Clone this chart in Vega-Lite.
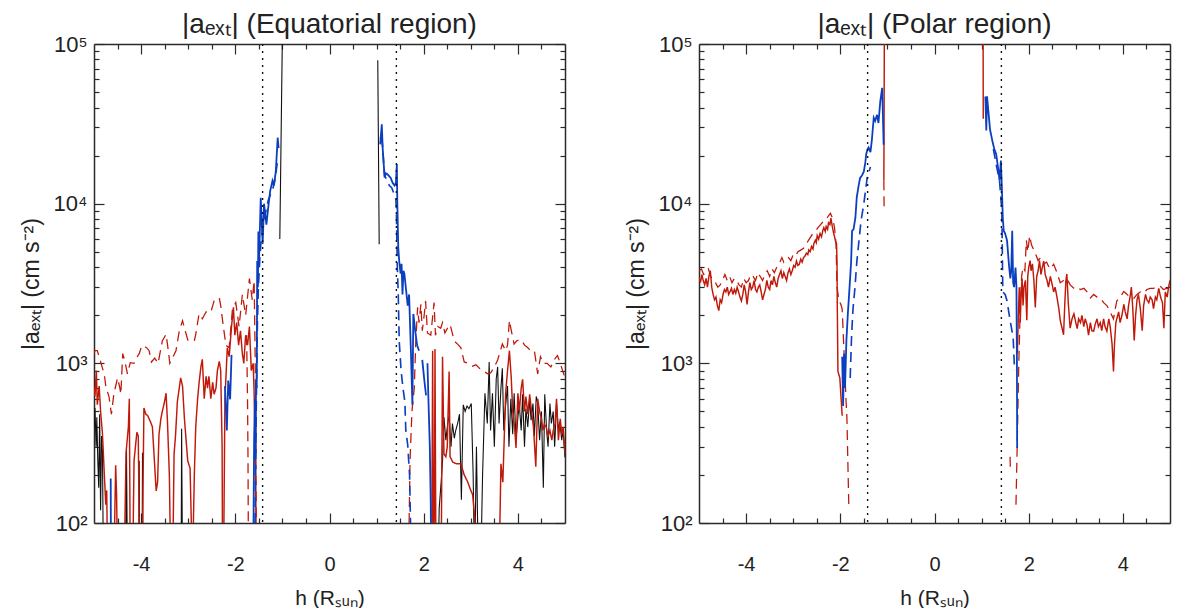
{
"$schema": "https://vega.github.io/schema/vega-lite/v6.json",
"padding": {"left": 20, "top": 11, "right": 2, "bottom": 0},
"spacing": 59,
"config": {
 "font": "Liberation Sans",
 "view": {"stroke": null},
 "axis": {"grid": false, "domainColor": "#2a2a2a", "domainWidth": 1.5, "tickColor": "#2a2a2a", "tickWidth": 1.2, "labelColor": "#222", "titleColor": "#222", "labelFontSize": 20, "titleFontSize": 23, "titleFontWeight": "normal", "labelOverlap": false, "labelFlush": false},
 "title": {"fontSize": 28, "fontWeight": "normal", "color": "#222", "frame": "group", "offset": -6}
},
"datasets": {
 "vlines": [{"x": -1.42}, {"x": 1.42}],
 "yb": [{"y": 100}, {"y": 100000}],
 "lines": [
{"p":"E","s":"k","g":"k1","x":-5.0,"y":400},{"p":"E","s":"k","g":"k1","x":-4.98,"y":525},{"p":"E","s":"k","g":"k1","x":-4.955,"y":300},{"p":"E","s":"k","g":"k1","x":-4.94,"y":460},{"p":"E","s":"k","g":"k1","x":-4.92,"y":250},{"p":"E","s":"k","g":"k1","x":-4.90,"y":166},{"p":"E","s":"k","g":"k1","x":-4.88,"y":480},{"p":"E","s":"k","g":"k1","x":-4.86,"y":120},{"p":"E","s":"k","g":"k1","x":-4.84,"y":350},{"p":"E","s":"k","g":"k1","x":-4.82,"y":280},{"p":"E","s":"k","g":"k1","x":-4.80,"y":50},
{"p":"E","s":"k","g":"k2","x":-4.33,"y":50},{"p":"E","s":"k","g":"k2","x":-4.31,"y":290},{"p":"E","s":"k","g":"k2","x":-4.29,"y":50},
{"p":"E","s":"k","g":"k3","x":-4.05,"y":50},{"p":"E","s":"k","g":"k3","x":-4.04,"y":245},{"p":"E","s":"k","g":"k3","x":-4.03,"y":50},
{"p":"E","s":"k","g":"k4","x":-3.98,"y":50},{"p":"E","s":"k","g":"k4","x":-3.97,"y":275},{"p":"E","s":"k","g":"k4","x":-3.96,"y":50},
{"p":"E","s":"k","g":"k5","x":-3.15,"y":50},{"p":"E","s":"k","g":"k5","x":-3.14,"y":390},{"p":"E","s":"k","g":"k5","x":-3.12,"y":50},
{"p":"E","s":"k","g":"k6","x":-1.055,"y":6000},{"p":"E","s":"k","g":"k6","x":-0.99,"y":200000},
{"p":"E","s":"k","g":"k7","x":1.025,"y":79000},{"p":"E","s":"k","g":"k7","x":1.055,"y":5570},
{"p":"E","s":"k","g":"k8","x":2.30,"y":50},{"p":"E","s":"k","g":"k8","x":2.33,"y":125},{"p":"E","s":"k","g":"k8","x":2.37,"y":180},{"p":"E","s":"k","g":"k8","x":2.40,"y":245},{"p":"E","s":"k","g":"k8","x":2.43,"y":460},{"p":"E","s":"k","g":"k8","x":2.47,"y":330},{"p":"E","s":"k","g":"k8","x":2.51,"y":420},{"p":"E","s":"k","g":"k8","x":2.54,"y":470},{"p":"E","s":"k","g":"k8","x":2.58,"y":300},{"p":"E","s":"k","g":"k8","x":2.61,"y":420},{"p":"E","s":"k","g":"k8","x":2.65,"y":340},{"p":"E","s":"k","g":"k8","x":2.68,"y":380},{"p":"E","s":"k","g":"k8","x":2.72,"y":420},{"p":"E","s":"k","g":"k8","x":2.76,"y":480},{"p":"E","s":"k","g":"k8","x":2.80,"y":140},{"p":"E","s":"k","g":"k8","x":2.84,"y":550},{"p":"E","s":"k","g":"k8","x":2.88,"y":500},{"p":"E","s":"k","g":"k8","x":2.92,"y":540},{"p":"E","s":"k","g":"k8","x":2.96,"y":520},{"p":"E","s":"k","g":"k8","x":3.01,"y":560},{"p":"E","s":"k","g":"k8","x":3.05,"y":200},{"p":"E","s":"k","g":"k8","x":3.08,"y":50},{"p":"E","s":"k","g":"k8","x":3.12,"y":300},{"p":"E","s":"k","g":"k8","x":3.16,"y":50},{"p":"E","s":"k","g":"k8","x":3.21,"y":50},{"p":"E","s":"k","g":"k8","x":3.25,"y":200},{"p":"E","s":"k","g":"k8","x":3.30,"y":650},{"p":"E","s":"k","g":"k8","x":3.35,"y":420},{"p":"E","s":"k","g":"k8","x":3.39,"y":1020},{"p":"E","s":"k","g":"k8","x":3.42,"y":380},{"p":"E","s":"k","g":"k8","x":3.46,"y":650},{"p":"E","s":"k","g":"k8","x":3.50,"y":300},{"p":"E","s":"k","g":"k8","x":3.54,"y":800},{"p":"E","s":"k","g":"k8","x":3.57,"y":950},{"p":"E","s":"k","g":"k8","x":3.60,"y":420},{"p":"E","s":"k","g":"k8","x":3.64,"y":700},{"p":"E","s":"k","g":"k8","x":3.67,"y":930},{"p":"E","s":"k","g":"k8","x":3.70,"y":380},{"p":"E","s":"k","g":"k8","x":3.74,"y":550},{"p":"E","s":"k","g":"k8","x":3.78,"y":720},{"p":"E","s":"k","g":"k8","x":3.81,"y":300},{"p":"E","s":"k","g":"k8","x":3.85,"y":600},{"p":"E","s":"k","g":"k8","x":3.89,"y":360},{"p":"E","s":"k","g":"k8","x":3.92,"y":650},{"p":"E","s":"k","g":"k8","x":3.96,"y":330},{"p":"E","s":"k","g":"k8","x":4.00,"y":460},{"p":"E","s":"k","g":"k8","x":4.03,"y":550},{"p":"E","s":"k","g":"k8","x":4.07,"y":380},{"p":"E","s":"k","g":"k8","x":4.10,"y":640},{"p":"E","s":"k","g":"k8","x":4.14,"y":300},{"p":"E","s":"k","g":"k8","x":4.17,"y":520},{"p":"E","s":"k","g":"k8","x":4.21,"y":400},{"p":"E","s":"k","g":"k8","x":4.25,"y":600},{"p":"E","s":"k","g":"k8","x":4.28,"y":440},{"p":"E","s":"k","g":"k8","x":4.32,"y":560},{"p":"E","s":"k","g":"k8","x":4.35,"y":350},{"p":"E","s":"k","g":"k8","x":4.39,"y":620},{"p":"E","s":"k","g":"k8","x":4.42,"y":570},{"p":"E","s":"k","g":"k8","x":4.46,"y":330},{"p":"E","s":"k","g":"k8","x":4.50,"y":500},{"p":"E","s":"k","g":"k8","x":4.54,"y":166},{"p":"E","s":"k","g":"k8","x":4.57,"y":640},{"p":"E","s":"k","g":"k8","x":4.61,"y":380},{"p":"E","s":"k","g":"k8","x":4.64,"y":300},{"p":"E","s":"k","g":"k8","x":4.68,"y":560},{"p":"E","s":"k","g":"k8","x":4.71,"y":420},{"p":"E","s":"k","g":"k8","x":4.75,"y":500},{"p":"E","s":"k","g":"k8","x":4.78,"y":300},{"p":"E","s":"k","g":"k8","x":4.82,"y":560},{"p":"E","s":"k","g":"k8","x":4.86,"y":380},{"p":"E","s":"k","g":"k8","x":4.89,"y":430},{"p":"E","s":"k","g":"k8","x":4.93,"y":330},{"p":"E","s":"k","g":"k8","x":4.96,"y":380},{"p":"E","s":"k","g":"k8","x":5.0,"y":257},

{"p":"E","s":"rd","g":"r1","x":-5.0,"y":1150},{"p":"E","s":"rd","g":"r1","x":-4.98,"y":1200},{"p":"E","s":"rd","g":"r1","x":-4.93,"y":1200},{"p":"E","s":"rd","g":"r1","x":-4.85,"y":1000},{"p":"E","s":"rd","g":"r1","x":-4.78,"y":850},{"p":"E","s":"rd","g":"r1","x":-4.75,"y":720},{"p":"E","s":"rd","g":"r1","x":-4.68,"y":615},{"p":"E","s":"rd","g":"r1","x":-4.63,"y":480},{"p":"E","s":"rd","g":"r1","x":-4.58,"y":640},{"p":"E","s":"rd","g":"r1","x":-4.50,"y":810},{"p":"E","s":"rd","g":"r1","x":-4.45,"y":700},{"p":"E","s":"rd","g":"r1","x":-4.43,"y":640},{"p":"E","s":"rd","g":"r1","x":-4.39,"y":1150},{"p":"E","s":"rd","g":"r1","x":-4.35,"y":1050},{"p":"E","s":"rd","g":"r1","x":-4.29,"y":860},{"p":"E","s":"rd","g":"r1","x":-4.23,"y":1010},{"p":"E","s":"rd","g":"r1","x":-4.15,"y":1000},{"p":"E","s":"rd","g":"r1","x":-4.09,"y":1090},{"p":"E","s":"rd","g":"r1","x":-4.04,"y":1150},{"p":"E","s":"rd","g":"r1","x":-4.00,"y":1250},{"p":"E","s":"rd","g":"r1","x":-3.96,"y":1300},{"p":"E","s":"rd","g":"r1","x":-3.88,"y":1250},{"p":"E","s":"rd","g":"r1","x":-3.83,"y":1200},{"p":"E","s":"rd","g":"r1","x":-3.78,"y":1020},{"p":"E","s":"rd","g":"r1","x":-3.71,"y":1080},{"p":"E","s":"rd","g":"r1","x":-3.64,"y":1000},{"p":"E","s":"rd","g":"r1","x":-3.55,"y":1380},{"p":"E","s":"rd","g":"r1","x":-3.47,"y":1520},{"p":"E","s":"rd","g":"r1","x":-3.43,"y":1250},{"p":"E","s":"rd","g":"r1","x":-3.39,"y":1000},{"p":"E","s":"rd","g":"r1","x":-3.26,"y":1200},{"p":"E","s":"rd","g":"r1","x":-3.19,"y":1590},{"p":"E","s":"rd","g":"r1","x":-3.12,"y":1850},{"p":"E","s":"rd","g":"r1","x":-3.01,"y":1400},{"p":"E","s":"rd","g":"r1","x":-2.87,"y":1380},{"p":"E","s":"rd","g":"r1","x":-2.84,"y":1520},{"p":"E","s":"rd","g":"r1","x":-2.77,"y":2040},{"p":"E","s":"rd","g":"r1","x":-2.70,"y":1900},{"p":"E","s":"rd","g":"r1","x":-2.66,"y":2000},{"p":"E","s":"rd","g":"r1","x":-2.62,"y":2100},{"p":"E","s":"rd","g":"r1","x":-2.52,"y":2090},{"p":"E","s":"rd","g":"r1","x":-2.45,"y":2460},{"p":"E","s":"rd","g":"r1","x":-2.34,"y":2570},{"p":"E","s":"rd","g":"r1","x":-2.31,"y":2300},{"p":"E","s":"rd","g":"r1","x":-2.27,"y":1850},{"p":"E","s":"rd","g":"r1","x":-2.24,"y":1590},{"p":"E","s":"rd","g":"r1","x":-2.20,"y":1300},{"p":"E","s":"rd","g":"r1","x":-2.13,"y":1250},{"p":"E","s":"rd","g":"r1","x":-2.06,"y":2200},{"p":"E","s":"rd","g":"r1","x":-1.99,"y":2400},{"p":"E","s":"rd","g":"r1","x":-1.92,"y":1700},{"p":"E","s":"rd","g":"r1","x":-1.85,"y":2700},{"p":"E","s":"rd","g":"r1","x":-1.78,"y":2000},{"p":"E","s":"rd","g":"r1","x":-1.70,"y":3400},{"p":"E","s":"rd","g":"r1","x":-1.64,"y":2500},{"p":"E","s":"rd","g":"r1","x":-1.60,"y":3300},{"p":"E","s":"rd","g":"r1","x":-1.58,"y":1200},{"p":"E","s":"rd","g":"r1","x":-1.565,"y":400},{"p":"E","s":"rd","g":"r1","x":-1.56,"y":190},{"p":"E","s":"rd","g":"r1","x":-1.55,"y":50},
{"p":"E","s":"rd","g":"r1b","x":-1.76,"y":1500},{"p":"E","s":"rd","g":"r1b","x":-1.74,"y":575},{"p":"E","s":"rd","g":"r1b","x":-1.73,"y":245},{"p":"E","s":"rd","g":"r1b","x":-1.72,"y":50},
{"p":"E","s":"rd","g":"r2","x":1.68,"y":50},{"p":"E","s":"rd","g":"r2","x":1.69,"y":100},{"p":"E","s":"rd","g":"r2","x":1.71,"y":245},{"p":"E","s":"rd","g":"r2","x":1.75,"y":500},{"p":"E","s":"rd","g":"r2","x":1.80,"y":700},{"p":"E","s":"rd","g":"r2","x":1.83,"y":1320},{"p":"E","s":"rd","g":"r2","x":1.87,"y":2240},{"p":"E","s":"rd","g":"r2","x":1.90,"y":1800},{"p":"E","s":"rd","g":"r2","x":1.94,"y":2340},{"p":"E","s":"rd","g":"r2","x":1.97,"y":1600},{"p":"E","s":"rd","g":"r2","x":2.01,"y":2000},{"p":"E","s":"rd","g":"r2","x":2.04,"y":2460},{"p":"E","s":"rd","g":"r2","x":2.08,"y":1550},{"p":"E","s":"rd","g":"r2","x":2.15,"y":1500},{"p":"E","s":"rd","g":"r2","x":2.22,"y":2400},{"p":"E","s":"rd","g":"r2","x":2.25,"y":1500},{"p":"E","s":"rd","g":"r2","x":2.30,"y":1700},{"p":"E","s":"rd","g":"r2","x":2.36,"y":1660},{"p":"E","s":"rd","g":"r2","x":2.40,"y":1800},{"p":"E","s":"rd","g":"r2","x":2.45,"y":1550},{"p":"E","s":"rd","g":"r2","x":2.50,"y":1650},{"p":"E","s":"rd","g":"r2","x":2.56,"y":1750},{"p":"E","s":"rd","g":"r2","x":2.65,"y":1380},{"p":"E","s":"rd","g":"r2","x":2.72,"y":1320},{"p":"E","s":"rd","g":"r2","x":2.79,"y":1250},{"p":"E","s":"rd","g":"r2","x":2.86,"y":1020},{"p":"E","s":"rd","g":"r2","x":2.95,"y":1000},{"p":"E","s":"rd","g":"r2","x":3.04,"y":960},{"p":"E","s":"rd","g":"r2","x":3.11,"y":980},{"p":"E","s":"rd","g":"r2","x":3.20,"y":920},{"p":"E","s":"rd","g":"r2","x":3.28,"y":890},{"p":"E","s":"rd","g":"r2","x":3.36,"y":860},{"p":"E","s":"rd","g":"r2","x":3.42,"y":870},{"p":"E","s":"rd","g":"r2","x":3.50,"y":950},{"p":"E","s":"rd","g":"r2","x":3.57,"y":1050},{"p":"E","s":"rd","g":"r2","x":3.62,"y":1180},{"p":"E","s":"rd","g":"r2","x":3.67,"y":1320},{"p":"E","s":"rd","g":"r2","x":3.74,"y":1200},{"p":"E","s":"rd","g":"r2","x":3.78,"y":1300},{"p":"E","s":"rd","g":"r2","x":3.82,"y":1860},{"p":"E","s":"rd","g":"r2","x":3.86,"y":1600},{"p":"E","s":"rd","g":"r2","x":3.92,"y":1320},{"p":"E","s":"rd","g":"r2","x":3.97,"y":1380},{"p":"E","s":"rd","g":"r2","x":4.03,"y":1410},{"p":"E","s":"rd","g":"r2","x":4.09,"y":1380},{"p":"E","s":"rd","g":"r2","x":4.14,"y":1300},{"p":"E","s":"rd","g":"r2","x":4.20,"y":1260},{"p":"E","s":"rd","g":"r2","x":4.27,"y":1200},{"p":"E","s":"rd","g":"r2","x":4.35,"y":1200},{"p":"E","s":"rd","g":"r2","x":4.42,"y":860},{"p":"E","s":"rd","g":"r2","x":4.48,"y":1100},{"p":"E","s":"rd","g":"r2","x":4.54,"y":1000},{"p":"E","s":"rd","g":"r2","x":4.62,"y":1000},{"p":"E","s":"rd","g":"r2","x":4.70,"y":950},{"p":"E","s":"rd","g":"r2","x":4.77,"y":1050},{"p":"E","s":"rd","g":"r2","x":4.84,"y":1120},{"p":"E","s":"rd","g":"r2","x":4.90,"y":1000},{"p":"E","s":"rd","g":"r2","x":4.95,"y":900},{"p":"E","s":"rd","g":"r2","x":5.0,"y":810},

{"p":"E","s":"rs","g":"s1","x":-5.0,"y":700},{"p":"E","s":"rs","g":"s1","x":-4.98,"y":620},{"p":"E","s":"rs","g":"s1","x":-4.95,"y":900},{"p":"E","s":"rs","g":"s1","x":-4.93,"y":550},{"p":"E","s":"rs","g":"s1","x":-4.89,"y":720},{"p":"E","s":"rs","g":"s1","x":-4.86,"y":500},{"p":"E","s":"rs","g":"s1","x":-4.82,"y":360},{"p":"E","s":"rs","g":"s1","x":-4.78,"y":200},{"p":"E","s":"rs","g":"s1","x":-4.75,"y":130},{"p":"E","s":"rs","g":"s1","x":-4.73,"y":160},{"p":"E","s":"rs","g":"s1","x":-4.71,"y":50},{"p":"E","s":"rs","g":"s1","x":-4.58,"y":50},{"p":"E","s":"rs","g":"s1","x":-4.54,"y":230},{"p":"E","s":"rs","g":"s1","x":-4.52,"y":150},{"p":"E","s":"rs","g":"s1","x":-4.50,"y":50},{"p":"E","s":"rs","g":"s1","x":-4.36,"y":50},{"p":"E","s":"rs","g":"s1","x":-4.32,"y":275},{"p":"E","s":"rs","g":"s1","x":-4.27,"y":400},{"p":"E","s":"rs","g":"s1","x":-4.25,"y":600},{"p":"E","s":"rs","g":"s1","x":-4.23,"y":50},{"p":"E","s":"rs","g":"s1","x":-4.18,"y":50},{"p":"E","s":"rs","g":"s1","x":-4.15,"y":245},{"p":"E","s":"rs","g":"s1","x":-4.12,"y":300},{"p":"E","s":"rs","g":"s1","x":-4.09,"y":370},{"p":"E","s":"rs","g":"s1","x":-4.06,"y":350},{"p":"E","s":"rs","g":"s1","x":-4.03,"y":50},{"p":"E","s":"rs","g":"s1","x":-3.98,"y":50},{"p":"E","s":"rs","g":"s1","x":-3.94,"y":525},{"p":"E","s":"rs","g":"s1","x":-3.90,"y":480},{"p":"E","s":"rs","g":"s1","x":-3.86,"y":470},{"p":"E","s":"rs","g":"s1","x":-3.80,"y":430},{"p":"E","s":"rs","g":"s1","x":-3.76,"y":400},{"p":"E","s":"rs","g":"s1","x":-3.70,"y":200},{"p":"E","s":"rs","g":"s1","x":-3.68,"y":159},{"p":"E","s":"rs","g":"s1","x":-3.65,"y":180},{"p":"E","s":"rs","g":"s1","x":-3.62,"y":360},{"p":"E","s":"rs","g":"s1","x":-3.58,"y":450},{"p":"E","s":"rs","g":"s1","x":-3.55,"y":500},{"p":"E","s":"rs","g":"s1","x":-3.51,"y":560},{"p":"E","s":"rs","g":"s1","x":-3.47,"y":650},{"p":"E","s":"rs","g":"s1","x":-3.44,"y":430},{"p":"E","s":"rs","g":"s1","x":-3.40,"y":200},{"p":"E","s":"rs","g":"s1","x":-3.37,"y":50},{"p":"E","s":"rs","g":"s1","x":-3.33,"y":50},{"p":"E","s":"rs","g":"s1","x":-3.30,"y":270},{"p":"E","s":"rs","g":"s1","x":-3.27,"y":350},{"p":"E","s":"rs","g":"s1","x":-3.23,"y":575},{"p":"E","s":"rs","g":"s1","x":-3.19,"y":700},{"p":"E","s":"rs","g":"s1","x":-3.16,"y":810},{"p":"E","s":"rs","g":"s1","x":-3.12,"y":720},{"p":"E","s":"rs","g":"s1","x":-3.08,"y":450},{"p":"E","s":"rs","g":"s1","x":-3.01,"y":245},{"p":"E","s":"rs","g":"s1","x":-2.96,"y":220},{"p":"E","s":"rs","g":"s1","x":-2.91,"y":50},{"p":"E","s":"rs","g":"s1","x":-2.87,"y":200},{"p":"E","s":"rs","g":"s1","x":-2.84,"y":400},{"p":"E","s":"rs","g":"s1","x":-2.80,"y":600},{"p":"E","s":"rs","g":"s1","x":-2.77,"y":750},{"p":"E","s":"rs","g":"s1","x":-2.73,"y":950},{"p":"E","s":"rs","g":"s1","x":-2.70,"y":1060},{"p":"E","s":"rs","g":"s1","x":-2.66,"y":600},{"p":"E","s":"rs","g":"s1","x":-2.62,"y":830},{"p":"E","s":"rs","g":"s1","x":-2.59,"y":700},{"p":"E","s":"rs","g":"s1","x":-2.56,"y":830},{"p":"E","s":"rs","g":"s1","x":-2.52,"y":600},{"p":"E","s":"rs","g":"s1","x":-2.48,"y":760},{"p":"E","s":"rs","g":"s1","x":-2.45,"y":640},{"p":"E","s":"rs","g":"s1","x":-2.41,"y":700},{"p":"E","s":"rs","g":"s1","x":-2.38,"y":900},{"p":"E","s":"rs","g":"s1","x":-2.34,"y":1030},{"p":"E","s":"rs","g":"s1","x":-2.31,"y":900},{"p":"E","s":"rs","g":"s1","x":-2.28,"y":300},{"p":"E","s":"rs","g":"s1","x":-2.27,"y":50},
{"p":"E","s":"rs","g":"s2","x":-2.25,"y":50},{"p":"E","s":"rs","g":"s2","x":-2.22,"y":600},{"p":"E","s":"rs","g":"s2","x":-2.17,"y":1250},{"p":"E","s":"rs","g":"s2","x":-2.13,"y":1100},{"p":"E","s":"rs","g":"s2","x":-2.08,"y":1700},{"p":"E","s":"rs","g":"s2","x":-2.04,"y":2240},{"p":"E","s":"rs","g":"s2","x":-2.01,"y":1500},{"p":"E","s":"rs","g":"s2","x":-1.97,"y":1800},{"p":"E","s":"rs","g":"s2","x":-1.93,"y":1300},{"p":"E","s":"rs","g":"s2","x":-1.89,"y":1600},{"p":"E","s":"rs","g":"s2","x":-1.85,"y":1150},{"p":"E","s":"rs","g":"s2","x":-1.82,"y":1000},{"p":"E","s":"rs","g":"s2","x":-1.78,"y":1500},{"p":"E","s":"rs","g":"s2","x":-1.74,"y":1300},{"p":"E","s":"rs","g":"s2","x":-1.70,"y":1700},{"p":"E","s":"rs","g":"s2","x":-1.66,"y":900},{"p":"E","s":"rs","g":"s2","x":-1.62,"y":1000},{"p":"E","s":"rs","g":"s2","x":-1.60,"y":650},{"p":"E","s":"rs","g":"s2","x":-1.57,"y":200},{"p":"E","s":"rs","g":"s2","x":-1.55,"y":50},
{"p":"E","s":"rs","g":"s3","x":2.17,"y":50},{"p":"E","s":"rs","g":"s3","x":2.19,"y":1200},{"p":"E","s":"rs","g":"s3","x":2.21,"y":50},{"p":"E","s":"rs","g":"s3","x":2.23,"y":150},{"p":"E","s":"rs","g":"s3","x":2.24,"y":1230},{"p":"E","s":"rs","g":"s3","x":2.26,"y":50},{"p":"E","s":"rs","g":"s3","x":2.37,"y":50},{"p":"E","s":"rs","g":"s3","x":2.40,"y":1100},{"p":"E","s":"rs","g":"s3","x":2.43,"y":270},{"p":"E","s":"rs","g":"s3","x":2.47,"y":260},{"p":"E","s":"rs","g":"s3","x":2.50,"y":300},{"p":"E","s":"rs","g":"s3","x":2.54,"y":890},{"p":"E","s":"rs","g":"s3","x":2.56,"y":260},{"p":"E","s":"rs","g":"s3","x":2.62,"y":240},{"p":"E","s":"rs","g":"s3","x":2.70,"y":235},{"p":"E","s":"rs","g":"s3","x":2.79,"y":235},{"p":"E","s":"rs","g":"s3","x":2.86,"y":200},{"p":"E","s":"rs","g":"s3","x":2.93,"y":182},{"p":"E","s":"rs","g":"s3","x":3.00,"y":160},{"p":"E","s":"rs","g":"s3","x":3.04,"y":150},{"p":"E","s":"rs","g":"s3","x":3.08,"y":110},{"p":"E","s":"rs","g":"s3","x":3.12,"y":50},
{"p":"E","s":"rs","g":"s4","x":3.60,"y":50},{"p":"E","s":"rs","g":"s4","x":3.64,"y":235},{"p":"E","s":"rs","g":"s4","x":3.68,"y":180},{"p":"E","s":"rs","g":"s4","x":3.74,"y":650},{"p":"E","s":"rs","g":"s4","x":3.78,"y":900},{"p":"E","s":"rs","g":"s4","x":3.82,"y":1200},{"p":"E","s":"rs","g":"s4","x":3.86,"y":800},{"p":"E","s":"rs","g":"s4","x":3.89,"y":500},{"p":"E","s":"rs","g":"s4","x":3.93,"y":400},{"p":"E","s":"rs","g":"s4","x":3.96,"y":295},{"p":"E","s":"rs","g":"s4","x":4.00,"y":650},{"p":"E","s":"rs","g":"s4","x":4.03,"y":500},{"p":"E","s":"rs","g":"s4","x":4.07,"y":700},{"p":"E","s":"rs","g":"s4","x":4.10,"y":795},{"p":"E","s":"rs","g":"s4","x":4.14,"y":500},{"p":"E","s":"rs","g":"s4","x":4.17,"y":620},{"p":"E","s":"rs","g":"s4","x":4.21,"y":480},{"p":"E","s":"rs","g":"s4","x":4.25,"y":640},{"p":"E","s":"rs","g":"s4","x":4.29,"y":500},{"p":"E","s":"rs","g":"s4","x":4.33,"y":400},{"p":"E","s":"rs","g":"s4","x":4.38,"y":225},{"p":"E","s":"rs","g":"s4","x":4.42,"y":600},{"p":"E","s":"rs","g":"s4","x":4.46,"y":500},{"p":"E","s":"rs","g":"s4","x":4.50,"y":450},{"p":"E","s":"rs","g":"s4","x":4.53,"y":380},{"p":"E","s":"rs","g":"s4","x":4.56,"y":415},{"p":"E","s":"rs","g":"s4","x":4.60,"y":400},{"p":"E","s":"rs","g":"s4","x":4.64,"y":350},{"p":"E","s":"rs","g":"s4","x":4.68,"y":380},{"p":"E","s":"rs","g":"s4","x":4.72,"y":330},{"p":"E","s":"rs","g":"s4","x":4.75,"y":380},{"p":"E","s":"rs","g":"s4","x":4.79,"y":420},{"p":"E","s":"rs","g":"s4","x":4.82,"y":600},{"p":"E","s":"rs","g":"s4","x":4.86,"y":330},{"p":"E","s":"rs","g":"s4","x":4.90,"y":450},{"p":"E","s":"rs","g":"s4","x":4.93,"y":360},{"p":"E","s":"rs","g":"s4","x":4.96,"y":400},{"p":"E","s":"rs","g":"s4","x":5.0,"y":270},

{"p":"E","s":"bd","g":"d1","x":-1.59,"y":50},{"p":"E","s":"bd","g":"d1","x":-1.57,"y":200},{"p":"E","s":"bd","g":"d1","x":-1.55,"y":700},{"p":"E","s":"bd","g":"d1","x":-1.53,"y":1800},{"p":"E","s":"bd","g":"d1","x":-1.51,"y":3000},{"p":"E","s":"bd","g":"d1","x":-1.48,"y":4500},{"p":"E","s":"bd","g":"d1","x":-1.45,"y":6000},{"p":"E","s":"bd","g":"d1","x":-1.40,"y":7500},{"p":"E","s":"bd","g":"d1","x":-1.35,"y":9000},{"p":"E","s":"bd","g":"d1","x":-1.30,"y":10500},{"p":"E","s":"bd","g":"d1","x":-1.25,"y":11500},{"p":"E","s":"bd","g":"d1","x":-1.20,"y":12500},{"p":"E","s":"bd","g":"d1","x":-1.15,"y":14500},{"p":"E","s":"bd","g":"d1","x":-1.11,"y":18000},
{"p":"E","s":"bd","g":"d2","x":1.08,"y":26000},{"p":"E","s":"bd","g":"d2","x":1.12,"y":24000},{"p":"E","s":"bd","g":"d2","x":1.17,"y":15000},{"p":"E","s":"bd","g":"d2","x":1.22,"y":14000},{"p":"E","s":"bd","g":"d2","x":1.27,"y":13000},{"p":"E","s":"bd","g":"d2","x":1.32,"y":12600},{"p":"E","s":"bd","g":"d2","x":1.37,"y":11500},{"p":"E","s":"bd","g":"d2","x":1.41,"y":10600},{"p":"E","s":"bd","g":"d2","x":1.42,"y":9000},{"p":"E","s":"bd","g":"d2","x":1.44,"y":4000},{"p":"E","s":"bd","g":"d2","x":1.46,"y":2700},{"p":"E","s":"bd","g":"d2","x":1.48,"y":1380},{"p":"E","s":"bd","g":"d2","x":1.52,"y":900},{"p":"E","s":"bd","g":"d2","x":1.56,"y":700},{"p":"E","s":"bd","g":"d2","x":1.60,"y":575},{"p":"E","s":"bd","g":"d2","x":1.62,"y":380},{"p":"E","s":"bd","g":"d2","x":1.66,"y":310},{"p":"E","s":"bd","g":"d2","x":1.70,"y":200},{"p":"E","s":"bd","g":"d2","x":1.74,"y":50},

{"p":"E","s":"bs","g":"b1","x":-4.645,"y":190},{"p":"E","s":"bs","g":"b1","x":-4.64,"y":50},
{"p":"E","s":"bs","g":"b2","x":-2.22,"y":720},{"p":"E","s":"bs","g":"b2","x":-2.18,"y":380},{"p":"E","s":"bs","g":"b2","x":-2.15,"y":780},{"p":"E","s":"bs","g":"b2","x":-2.11,"y":595},{"p":"E","s":"bs","g":"b2","x":-2.08,"y":1130},
{"p":"E","s":"bs","g":"b3","x":-1.62,"y":50},{"p":"E","s":"bs","g":"b3","x":-1.60,"y":343},{"p":"E","s":"bs","g":"b3","x":-1.58,"y":600},{"p":"E","s":"bs","g":"b3","x":-1.57,"y":250},{"p":"E","s":"bs","g":"b3","x":-1.56,"y":780},{"p":"E","s":"bs","g":"b3","x":-1.545,"y":700},{"p":"E","s":"bs","g":"b3","x":-1.535,"y":4370},{"p":"E","s":"bs","g":"b3","x":-1.52,"y":3000},{"p":"E","s":"bs","g":"b3","x":-1.51,"y":6700},{"p":"E","s":"bs","g":"b3","x":-1.50,"y":4000},{"p":"E","s":"bs","g":"b3","x":-1.46,"y":10900},{"p":"E","s":"bs","g":"b3","x":-1.42,"y":5600},{"p":"E","s":"bs","g":"b3","x":-1.40,"y":8130},{"p":"E","s":"bs","g":"b3","x":-1.39,"y":10000},{"p":"E","s":"bs","g":"b3","x":-1.34,"y":7400},{"p":"E","s":"bs","g":"b3","x":-1.30,"y":9500},{"p":"E","s":"bs","g":"b3","x":-1.26,"y":12000},{"p":"E","s":"bs","g":"b3","x":-1.21,"y":13900},{"p":"E","s":"bs","g":"b3","x":-1.18,"y":13000},{"p":"E","s":"bs","g":"b3","x":-1.14,"y":15900},{"p":"E","s":"bs","g":"b3","x":-1.10,"y":25900},{"p":"E","s":"bs","g":"b3","x":-1.08,"y":22300},
{"p":"E","s":"bs","g":"b4","x":1.076,"y":23500},{"p":"E","s":"bs","g":"b4","x":1.11,"y":31400},{"p":"E","s":"bs","g":"b4","x":1.13,"y":22000},{"p":"E","s":"bs","g":"b4","x":1.17,"y":14600},{"p":"E","s":"bs","g":"b4","x":1.20,"y":15500},{"p":"E","s":"bs","g":"b4","x":1.23,"y":15300},{"p":"E","s":"bs","g":"b4","x":1.27,"y":14800},{"p":"E","s":"bs","g":"b4","x":1.30,"y":14500},{"p":"E","s":"bs","g":"b4","x":1.34,"y":13500},{"p":"E","s":"bs","g":"b4","x":1.38,"y":13000},{"p":"E","s":"bs","g":"b4","x":1.41,"y":13500},{"p":"E","s":"bs","g":"b4","x":1.43,"y":17700},{"p":"E","s":"bs","g":"b4","x":1.44,"y":10000},{"p":"E","s":"bs","g":"b4","x":1.46,"y":5300},{"p":"E","s":"bs","g":"b4","x":1.48,"y":4370},{"p":"E","s":"bs","g":"b4","x":1.51,"y":3640},{"p":"E","s":"bs","g":"b4","x":1.53,"y":4200},{"p":"E","s":"bs","g":"b4","x":1.55,"y":2700},{"p":"E","s":"bs","g":"b4","x":1.57,"y":3800},{"p":"E","s":"bs","g":"b4","x":1.59,"y":3640},{"p":"E","s":"bs","g":"b4","x":1.62,"y":3000},{"p":"E","s":"bs","g":"b4","x":1.66,"y":2300},{"p":"E","s":"bs","g":"b4","x":1.69,"y":2700},{"p":"E","s":"bs","g":"b4","x":1.73,"y":1150},{"p":"E","s":"bs","g":"b4","x":1.76,"y":550},{"p":"E","s":"bs","g":"b4","x":1.78,"y":2040},{"p":"E","s":"bs","g":"b4","x":1.82,"y":1600},{"p":"E","s":"bs","g":"b4","x":1.86,"y":1300},{"p":"E","s":"bs","g":"b4","x":1.90,"y":1200},
{"p":"E","s":"bs","g":"b5","x":1.97,"y":1050},{"p":"E","s":"bs","g":"b5","x":2.01,"y":800},{"p":"E","s":"bs","g":"b5","x":2.05,"y":630},
{"p":"E","s":"bs","g":"b6","x":2.08,"y":1000},{"p":"E","s":"bs","g":"b6","x":2.10,"y":600},{"p":"E","s":"bs","g":"b6","x":2.13,"y":300},{"p":"E","s":"bs","g":"b6","x":2.15,"y":130},{"p":"E","s":"bs","g":"b6","x":2.16,"y":50},

{"p":"P","s":"rd","g":"r1","x":-5.0,"y":3800},{"p":"P","s":"rd","g":"r1","x":-4.95,"y":3900},{"p":"P","s":"rd","g":"r1","x":-4.9,"y":3600},{"p":"P","s":"rd","g":"r1","x":-4.85,"y":3700},{"p":"P","s":"rd","g":"r1","x":-4.80,"y":3900},{"p":"P","s":"rd","g":"r1","x":-4.75,"y":3500},{"p":"P","s":"rd","g":"r1","x":-4.70,"y":3300},{"p":"P","s":"rd","g":"r1","x":-4.65,"y":3200},{"p":"P","s":"rd","g":"r1","x":-4.60,"y":3000},{"p":"P","s":"rd","g":"r1","x":-4.55,"y":3100},{"p":"P","s":"rd","g":"r1","x":-4.50,"y":3300},{"p":"P","s":"rd","g":"r1","x":-4.45,"y":3600},{"p":"P","s":"rd","g":"r1","x":-4.40,"y":3300},{"p":"P","s":"rd","g":"r1","x":-4.35,"y":3500},{"p":"P","s":"rd","g":"r1","x":-4.30,"y":3200},{"p":"P","s":"rd","g":"r1","x":-4.25,"y":3400},{"p":"P","s":"rd","g":"r1","x":-4.20,"y":3300},{"p":"P","s":"rd","g":"r1","x":-4.15,"y":3100},{"p":"P","s":"rd","g":"r1","x":-4.10,"y":3000},{"p":"P","s":"rd","g":"r1","x":-4.05,"y":3400},{"p":"P","s":"rd","g":"r1","x":-4.00,"y":3200},{"p":"P","s":"rd","g":"r1","x":-3.95,"y":3300},{"p":"P","s":"rd","g":"r1","x":-3.90,"y":3600},{"p":"P","s":"rd","g":"r1","x":-3.85,"y":3500},{"p":"P","s":"rd","g":"r1","x":-3.80,"y":3300},{"p":"P","s":"rd","g":"r1","x":-3.75,"y":3700},{"p":"P","s":"rd","g":"r1","x":-3.70,"y":3500},{"p":"P","s":"rd","g":"r1","x":-3.65,"y":3300},{"p":"P","s":"rd","g":"r1","x":-3.60,"y":3600},{"p":"P","s":"rd","g":"r1","x":-3.55,"y":3800},{"p":"P","s":"rd","g":"r1","x":-3.50,"y":3500},{"p":"P","s":"rd","g":"r1","x":-3.45,"y":3900},{"p":"P","s":"rd","g":"r1","x":-3.40,"y":3700},{"p":"P","s":"rd","g":"r1","x":-3.35,"y":4000},{"p":"P","s":"rd","g":"r1","x":-3.30,"y":4200},{"p":"P","s":"rd","g":"r1","x":-3.24,"y":4600},{"p":"P","s":"rd","g":"r1","x":-3.20,"y":4300},{"p":"P","s":"rd","g":"r1","x":-3.15,"y":4500},{"p":"P","s":"rd","g":"r1","x":-3.10,"y":4600},{"p":"P","s":"rd","g":"r1","x":-3.05,"y":4400},{"p":"P","s":"rd","g":"r1","x":-3.00,"y":4800},{"p":"P","s":"rd","g":"r1","x":-2.95,"y":4700},{"p":"P","s":"rd","g":"r1","x":-2.90,"y":5000},{"p":"P","s":"rd","g":"r1","x":-2.85,"y":5100},{"p":"P","s":"rd","g":"r1","x":-2.78,"y":5260},{"p":"P","s":"rd","g":"r1","x":-2.72,"y":5600},{"p":"P","s":"rd","g":"r1","x":-2.66,"y":6000},{"p":"P","s":"rd","g":"r1","x":-2.59,"y":6460},{"p":"P","s":"rd","g":"r1","x":-2.53,"y":6700},{"p":"P","s":"rd","g":"r1","x":-2.47,"y":7100},{"p":"P","s":"rd","g":"r1","x":-2.41,"y":7450},{"p":"P","s":"rd","g":"r1","x":-2.35,"y":7800},{"p":"P","s":"rd","g":"r1","x":-2.30,"y":8000},{"p":"P","s":"rd","g":"r1","x":-2.25,"y":8400},{"p":"P","s":"rd","g":"r1","x":-2.21,"y":8710},{"p":"P","s":"rd","g":"r1","x":-2.18,"y":8300},{"p":"P","s":"rd","g":"r1","x":-2.15,"y":7800},{"p":"P","s":"rd","g":"r1","x":-2.12,"y":7000},{"p":"P","s":"rd","g":"r1","x":-2.09,"y":5500},{"p":"P","s":"rd","g":"r1","x":-2.07,"y":3000},{"p":"P","s":"rd","g":"r1","x":-2.03,"y":2500},{"p":"P","s":"rd","g":"r1","x":-1.98,"y":2300},{"p":"P","s":"rd","g":"r1","x":-1.96,"y":2190},{"p":"P","s":"rd","g":"r1","x":-1.92,"y":1150},{"p":"P","s":"rd","g":"r1","x":-1.88,"y":600},{"p":"P","s":"rd","g":"r1","x":-1.86,"y":460},{"p":"P","s":"rd","g":"r1","x":-1.84,"y":245},{"p":"P","s":"rd","g":"r1","x":-1.82,"y":130},
{"p":"P","s":"rd","g":"r2","x":-1.075,"y":14000},{"p":"P","s":"rd","g":"r2","x":-1.07,"y":9500},
{"p":"P","s":"rd","g":"r4","x":1.605,"y":260},{"p":"P","s":"rd","g":"r4","x":1.61,"y":210},
{"p":"P","s":"rd","g":"r3","x":1.73,"y":130},{"p":"P","s":"rd","g":"r3","x":1.75,"y":250},{"p":"P","s":"rd","g":"r3","x":1.77,"y":500},{"p":"P","s":"rd","g":"r3","x":1.79,"y":1000},{"p":"P","s":"rd","g":"r3","x":1.82,"y":2200},{"p":"P","s":"rd","g":"r3","x":1.85,"y":3500},{"p":"P","s":"rd","g":"r3","x":1.88,"y":4000},{"p":"P","s":"rd","g":"r3","x":1.92,"y":3800},{"p":"P","s":"rd","g":"r3","x":1.95,"y":5900},{"p":"P","s":"rd","g":"r3","x":1.98,"y":5000},{"p":"P","s":"rd","g":"r3","x":2.02,"y":6300},{"p":"P","s":"rd","g":"r3","x":2.06,"y":5500},{"p":"P","s":"rd","g":"r3","x":2.10,"y":5200},{"p":"P","s":"rd","g":"r3","x":2.15,"y":4800},{"p":"P","s":"rd","g":"r3","x":2.20,"y":4400},{"p":"P","s":"rd","g":"r3","x":2.25,"y":4600},{"p":"P","s":"rd","g":"r3","x":2.32,"y":4200},{"p":"P","s":"rd","g":"r3","x":2.38,"y":4300},{"p":"P","s":"rd","g":"r3","x":2.45,"y":3900},{"p":"P","s":"rd","g":"r3","x":2.53,"y":4170},{"p":"P","s":"rd","g":"r3","x":2.60,"y":3700},{"p":"P","s":"rd","g":"r3","x":2.67,"y":3200},{"p":"P","s":"rd","g":"r3","x":2.74,"y":3300},{"p":"P","s":"rd","g":"r3","x":2.81,"y":3400},{"p":"P","s":"rd","g":"r3","x":2.88,"y":3100},{"p":"P","s":"rd","g":"r3","x":2.96,"y":2950},{"p":"P","s":"rd","g":"r3","x":3.03,"y":3000},{"p":"P","s":"rd","g":"r3","x":3.10,"y":2900},{"p":"P","s":"rd","g":"r3","x":3.17,"y":2950},{"p":"P","s":"rd","g":"r3","x":3.24,"y":2800},{"p":"P","s":"rd","g":"r3","x":3.31,"y":2570},{"p":"P","s":"rd","g":"r3","x":3.38,"y":2700},{"p":"P","s":"rd","g":"r3","x":3.45,"y":2600},{"p":"P","s":"rd","g":"r3","x":3.52,"y":2570},{"p":"P","s":"rd","g":"r3","x":3.59,"y":2400},{"p":"P","s":"rd","g":"r3","x":3.66,"y":2300},{"p":"P","s":"rd","g":"r3","x":3.73,"y":2100},{"p":"P","s":"rd","g":"r3","x":3.80,"y":1900},{"p":"P","s":"rd","g":"r3","x":3.87,"y":2460},{"p":"P","s":"rd","g":"r3","x":3.94,"y":2600},{"p":"P","s":"rd","g":"r3","x":4.02,"y":2820},{"p":"P","s":"rd","g":"r3","x":4.09,"y":2700},{"p":"P","s":"rd","g":"r3","x":4.16,"y":2600},{"p":"P","s":"rd","g":"r3","x":4.23,"y":2550},{"p":"P","s":"rd","g":"r3","x":4.30,"y":2700},{"p":"P","s":"rd","g":"r3","x":4.37,"y":2800},{"p":"P","s":"rd","g":"r3","x":4.44,"y":2750},{"p":"P","s":"rd","g":"r3","x":4.51,"y":2900},{"p":"P","s":"rd","g":"r3","x":4.58,"y":2950},{"p":"P","s":"rd","g":"r3","x":4.65,"y":2950},{"p":"P","s":"rd","g":"r3","x":4.72,"y":3000},{"p":"P","s":"rd","g":"r3","x":4.79,"y":3050},{"p":"P","s":"rd","g":"r3","x":4.86,"y":2900},{"p":"P","s":"rd","g":"r3","x":4.93,"y":2950},{"p":"P","s":"rd","g":"r3","x":5.0,"y":2950},

{"p":"P","s":"rs","g":"s1","x":-5.0,"y":3470},{"p":"P","s":"rs","g":"s1","x":-4.97,"y":3200},{"p":"P","s":"rs","g":"s1","x":-4.94,"y":3600},{"p":"P","s":"rs","g":"s1","x":-4.91,"y":3300},{"p":"P","s":"rs","g":"s1","x":-4.88,"y":3100},{"p":"P","s":"rs","g":"s1","x":-4.85,"y":3400},{"p":"P","s":"rs","g":"s1","x":-4.82,"y":3000},{"p":"P","s":"rs","g":"s1","x":-4.79,"y":3500},{"p":"P","s":"rs","g":"s1","x":-4.76,"y":3800},{"p":"P","s":"rs","g":"s1","x":-4.73,"y":3000},{"p":"P","s":"rs","g":"s1","x":-4.70,"y":2700},{"p":"P","s":"rs","g":"s1","x":-4.67,"y":2500},{"p":"P","s":"rs","g":"s1","x":-4.64,"y":2600},{"p":"P","s":"rs","g":"s1","x":-4.61,"y":2300},{"p":"P","s":"rs","g":"s1","x":-4.58,"y":2140},{"p":"P","s":"rs","g":"s1","x":-4.55,"y":2500},{"p":"P","s":"rs","g":"s1","x":-4.52,"y":2400},{"p":"P","s":"rs","g":"s1","x":-4.49,"y":2700},{"p":"P","s":"rs","g":"s1","x":-4.46,"y":2900},{"p":"P","s":"rs","g":"s1","x":-4.43,"y":2800},{"p":"P","s":"rs","g":"s1","x":-4.40,"y":3000},{"p":"P","s":"rs","g":"s1","x":-4.37,"y":2700},{"p":"P","s":"rs","g":"s1","x":-4.34,"y":2820},{"p":"P","s":"rs","g":"s1","x":-4.31,"y":2950},{"p":"P","s":"rs","g":"s1","x":-4.28,"y":2700},{"p":"P","s":"rs","g":"s1","x":-4.25,"y":2900},{"p":"P","s":"rs","g":"s1","x":-4.22,"y":2750},{"p":"P","s":"rs","g":"s1","x":-4.19,"y":3000},{"p":"P","s":"rs","g":"s1","x":-4.16,"y":2800},{"p":"P","s":"rs","g":"s1","x":-4.13,"y":2600},{"p":"P","s":"rs","g":"s1","x":-4.10,"y":2460},{"p":"P","s":"rs","g":"s1","x":-4.07,"y":2700},{"p":"P","s":"rs","g":"s1","x":-4.04,"y":3100},{"p":"P","s":"rs","g":"s1","x":-4.01,"y":2800},{"p":"P","s":"rs","g":"s1","x":-3.98,"y":2340},{"p":"P","s":"rs","g":"s1","x":-3.95,"y":2800},{"p":"P","s":"rs","g":"s1","x":-3.92,"y":3200},{"p":"P","s":"rs","g":"s1","x":-3.89,"y":2900},{"p":"P","s":"rs","g":"s1","x":-3.86,"y":3000},{"p":"P","s":"rs","g":"s1","x":-3.83,"y":3300},{"p":"P","s":"rs","g":"s1","x":-3.80,"y":2900},{"p":"P","s":"rs","g":"s1","x":-3.77,"y":2800},{"p":"P","s":"rs","g":"s1","x":-3.74,"y":3000},{"p":"P","s":"rs","g":"s1","x":-3.71,"y":3100},{"p":"P","s":"rs","g":"s1","x":-3.68,"y":2800},{"p":"P","s":"rs","g":"s1","x":-3.65,"y":2500},{"p":"P","s":"rs","g":"s1","x":-3.62,"y":2700},{"p":"P","s":"rs","g":"s1","x":-3.59,"y":2900},{"p":"P","s":"rs","g":"s1","x":-3.56,"y":3310},{"p":"P","s":"rs","g":"s1","x":-3.53,"y":3000},{"p":"P","s":"rs","g":"s1","x":-3.50,"y":2900},{"p":"P","s":"rs","g":"s1","x":-3.47,"y":3300},{"p":"P","s":"rs","g":"s1","x":-3.44,"y":3100},{"p":"P","s":"rs","g":"s1","x":-3.41,"y":3500},{"p":"P","s":"rs","g":"s1","x":-3.38,"y":3200},{"p":"P","s":"rs","g":"s1","x":-3.35,"y":3000},{"p":"P","s":"rs","g":"s1","x":-3.32,"y":3400},{"p":"P","s":"rs","g":"s1","x":-3.29,"y":3600},{"p":"P","s":"rs","g":"s1","x":-3.26,"y":3800},{"p":"P","s":"rs","g":"s1","x":-3.23,"y":3400},{"p":"P","s":"rs","g":"s1","x":-3.20,"y":3700},{"p":"P","s":"rs","g":"s1","x":-3.17,"y":3500},{"p":"P","s":"rs","g":"s1","x":-3.14,"y":3300},{"p":"P","s":"rs","g":"s1","x":-3.11,"y":3700},{"p":"P","s":"rs","g":"s1","x":-3.08,"y":3900},{"p":"P","s":"rs","g":"s1","x":-3.05,"y":3600},{"p":"P","s":"rs","g":"s1","x":-3.02,"y":3800},{"p":"P","s":"rs","g":"s1","x":-2.99,"y":4100},{"p":"P","s":"rs","g":"s1","x":-2.96,"y":4000},{"p":"P","s":"rs","g":"s1","x":-2.93,"y":4370},{"p":"P","s":"rs","g":"s1","x":-2.90,"y":4100},{"p":"P","s":"rs","g":"s1","x":-2.87,"y":4170},{"p":"P","s":"rs","g":"s1","x":-2.84,"y":4500},{"p":"P","s":"rs","g":"s1","x":-2.81,"y":4300},{"p":"P","s":"rs","g":"s1","x":-2.78,"y":4600},{"p":"P","s":"rs","g":"s1","x":-2.75,"y":4700},{"p":"P","s":"rs","g":"s1","x":-2.72,"y":4900},{"p":"P","s":"rs","g":"s1","x":-2.69,"y":4800},{"p":"P","s":"rs","g":"s1","x":-2.67,"y":5130},{"p":"P","s":"rs","g":"s1","x":-2.64,"y":5000},{"p":"P","s":"rs","g":"s1","x":-2.61,"y":5400},{"p":"P","s":"rs","g":"s1","x":-2.58,"y":5200},{"p":"P","s":"rs","g":"s1","x":-2.56,"y":5630},{"p":"P","s":"rs","g":"s1","x":-2.53,"y":5900},{"p":"P","s":"rs","g":"s1","x":-2.51,"y":5700},{"p":"P","s":"rs","g":"s1","x":-2.49,"y":6310},{"p":"P","s":"rs","g":"s1","x":-2.46,"y":6000},{"p":"P","s":"rs","g":"s1","x":-2.43,"y":6500},{"p":"P","s":"rs","g":"s1","x":-2.40,"y":6200},{"p":"P","s":"rs","g":"s1","x":-2.37,"y":6800},{"p":"P","s":"rs","g":"s1","x":-2.35,"y":7080},{"p":"P","s":"rs","g":"s1","x":-2.32,"y":6700},{"p":"P","s":"rs","g":"s1","x":-2.30,"y":7200},{"p":"P","s":"rs","g":"s1","x":-2.27,"y":6900},{"p":"P","s":"rs","g":"s1","x":-2.25,"y":7590},{"p":"P","s":"rs","g":"s1","x":-2.22,"y":7400},{"p":"P","s":"rs","g":"s1","x":-2.20,"y":8130},{"p":"P","s":"rs","g":"s1","x":-2.17,"y":7200},{"p":"P","s":"rs","g":"s1","x":-2.14,"y":6500},{"p":"P","s":"rs","g":"s1","x":-2.12,"y":6170},{"p":"P","s":"rs","g":"s1","x":-2.10,"y":5800},{"p":"P","s":"rs","g":"s1","x":-2.08,"y":5620},{"p":"P","s":"rs","g":"s1","x":-2.07,"y":4370},{"p":"P","s":"rs","g":"s1","x":-2.065,"y":2460},{"p":"P","s":"rs","g":"s1","x":-2.05,"y":890},{"p":"P","s":"rs","g":"s1","x":-2.01,"y":810},{"p":"P","s":"rs","g":"s1","x":-1.96,"y":470},
{"p":"P","s":"rs","g":"s2","x":-1.075,"y":14000},{"p":"P","s":"rs","g":"s2","x":-1.06,"y":300000},
{"p":"P","s":"rs","g":"s3","x":1.03,"y":300000},{"p":"P","s":"rs","g":"s3","x":1.035,"y":34000},
{"p":"P","s":"rs","g":"s4","x":1.76,"y":1150},{"p":"P","s":"rs","g":"s4","x":1.78,"y":2000},{"p":"P","s":"rs","g":"s4","x":1.80,"y":3000},{"p":"P","s":"rs","g":"s4","x":1.82,"y":1800},{"p":"P","s":"rs","g":"s4","x":1.84,"y":2700},{"p":"P","s":"rs","g":"s4","x":1.86,"y":3400},{"p":"P","s":"rs","g":"s4","x":1.88,"y":2300},{"p":"P","s":"rs","g":"s4","x":1.90,"y":3000},{"p":"P","s":"rs","g":"s4","x":1.93,"y":3310},{"p":"P","s":"rs","g":"s4","x":1.96,"y":1860},{"p":"P","s":"rs","g":"s4","x":1.98,"y":3500},{"p":"P","s":"rs","g":"s4","x":2.00,"y":3980},{"p":"P","s":"rs","g":"s4","x":2.03,"y":4400},{"p":"P","s":"rs","g":"s4","x":2.05,"y":3800},{"p":"P","s":"rs","g":"s4","x":2.08,"y":4200},{"p":"P","s":"rs","g":"s4","x":2.11,"y":3300},{"p":"P","s":"rs","g":"s4","x":2.14,"y":2240},{"p":"P","s":"rs","g":"s4","x":2.17,"y":3500},{"p":"P","s":"rs","g":"s4","x":2.20,"y":3800},{"p":"P","s":"rs","g":"s4","x":2.23,"y":4400},{"p":"P","s":"rs","g":"s4","x":2.26,"y":3600},{"p":"P","s":"rs","g":"s4","x":2.29,"y":4000},{"p":"P","s":"rs","g":"s4","x":2.32,"y":4370},{"p":"P","s":"rs","g":"s4","x":2.35,"y":3600},{"p":"P","s":"rs","g":"s4","x":2.39,"y":3310},{"p":"P","s":"rs","g":"s4","x":2.42,"y":3000},{"p":"P","s":"rs","g":"s4","x":2.46,"y":3500},{"p":"P","s":"rs","g":"s4","x":2.49,"y":3200},{"p":"P","s":"rs","g":"s4","x":2.53,"y":2800},{"p":"P","s":"rs","g":"s4","x":2.56,"y":3000},{"p":"P","s":"rs","g":"s4","x":2.60,"y":2600},{"p":"P","s":"rs","g":"s4","x":2.64,"y":2200},{"p":"P","s":"rs","g":"s4","x":2.67,"y":1860},{"p":"P","s":"rs","g":"s4","x":2.70,"y":1700},{"p":"P","s":"rs","g":"s4","x":2.74,"y":1510},{"p":"P","s":"rs","g":"s4","x":2.77,"y":2500},{"p":"P","s":"rs","g":"s4","x":2.79,"y":3300},{"p":"P","s":"rs","g":"s4","x":2.81,"y":3630},{"p":"P","s":"rs","g":"s4","x":2.84,"y":2400},{"p":"P","s":"rs","g":"s4","x":2.88,"y":1660},{"p":"P","s":"rs","g":"s4","x":2.92,"y":1900},{"p":"P","s":"rs","g":"s4","x":2.96,"y":2040},{"p":"P","s":"rs","g":"s4","x":3.00,"y":1800},{"p":"P","s":"rs","g":"s4","x":3.03,"y":1650},{"p":"P","s":"rs","g":"s4","x":3.06,"y":1900},{"p":"P","s":"rs","g":"s4","x":3.10,"y":1800},{"p":"P","s":"rs","g":"s4","x":3.13,"y":2000},{"p":"P","s":"rs","g":"s4","x":3.17,"y":1700},{"p":"P","s":"rs","g":"s4","x":3.20,"y":1900},{"p":"P","s":"rs","g":"s4","x":3.24,"y":1740},{"p":"P","s":"rs","g":"s4","x":3.27,"y":1500},{"p":"P","s":"rs","g":"s4","x":3.31,"y":1800},{"p":"P","s":"rs","g":"s4","x":3.34,"y":1600},{"p":"P","s":"rs","g":"s4","x":3.38,"y":1590},{"p":"P","s":"rs","g":"s4","x":3.41,"y":1750},{"p":"P","s":"rs","g":"s4","x":3.45,"y":1900},{"p":"P","s":"rs","g":"s4","x":3.48,"y":1700},{"p":"P","s":"rs","g":"s4","x":3.52,"y":1800},{"p":"P","s":"rs","g":"s4","x":3.55,"y":1600},{"p":"P","s":"rs","g":"s4","x":3.59,"y":1900},{"p":"P","s":"rs","g":"s4","x":3.62,"y":1700},{"p":"P","s":"rs","g":"s4","x":3.66,"y":1590},{"p":"P","s":"rs","g":"s4","x":3.70,"y":1900},{"p":"P","s":"rs","g":"s4","x":3.73,"y":1700},{"p":"P","s":"rs","g":"s4","x":3.77,"y":1320},{"p":"P","s":"rs","g":"s4","x":3.80,"y":890},{"p":"P","s":"rs","g":"s4","x":3.82,"y":1300},{"p":"P","s":"rs","g":"s4","x":3.85,"y":1800},{"p":"P","s":"rs","g":"s4","x":3.87,"y":1900},{"p":"P","s":"rs","g":"s4","x":3.91,"y":2100},{"p":"P","s":"rs","g":"s4","x":3.94,"y":1800},{"p":"P","s":"rs","g":"s4","x":3.98,"y":2000},{"p":"P","s":"rs","g":"s4","x":4.02,"y":2340},{"p":"P","s":"rs","g":"s4","x":4.05,"y":2100},{"p":"P","s":"rs","g":"s4","x":4.09,"y":1900},{"p":"P","s":"rs","g":"s4","x":4.12,"y":2300},{"p":"P","s":"rs","g":"s4","x":4.16,"y":2700},{"p":"P","s":"rs","g":"s4","x":4.18,"y":3000},{"p":"P","s":"rs","g":"s4","x":4.21,"y":2200},{"p":"P","s":"rs","g":"s4","x":4.24,"y":1390},{"p":"P","s":"rs","g":"s4","x":4.27,"y":2000},{"p":"P","s":"rs","g":"s4","x":4.30,"y":2500},{"p":"P","s":"rs","g":"s4","x":4.33,"y":2700},{"p":"P","s":"rs","g":"s4","x":4.37,"y":2200},{"p":"P","s":"rs","g":"s4","x":4.41,"y":1600},{"p":"P","s":"rs","g":"s4","x":4.44,"y":2300},{"p":"P","s":"rs","g":"s4","x":4.48,"y":2700},{"p":"P","s":"rs","g":"s4","x":4.51,"y":2500},{"p":"P","s":"rs","g":"s4","x":4.55,"y":2400},{"p":"P","s":"rs","g":"s4","x":4.58,"y":2600},{"p":"P","s":"rs","g":"s4","x":4.62,"y":2500},{"p":"P","s":"rs","g":"s4","x":4.65,"y":2200},{"p":"P","s":"rs","g":"s4","x":4.69,"y":2600},{"p":"P","s":"rs","g":"s4","x":4.72,"y":2500},{"p":"P","s":"rs","g":"s4","x":4.76,"y":2950},{"p":"P","s":"rs","g":"s4","x":4.80,"y":2600},{"p":"P","s":"rs","g":"s4","x":4.84,"y":2400},{"p":"P","s":"rs","g":"s4","x":4.87,"y":1660},{"p":"P","s":"rs","g":"s4","x":4.90,"y":2800},{"p":"P","s":"rs","g":"s4","x":4.94,"y":2600},{"p":"P","s":"rs","g":"s4","x":4.97,"y":3000},{"p":"P","s":"rs","g":"s4","x":5.0,"y":3310},

{"p":"P","s":"bd","g":"d1","x":-1.79,"y":810},{"p":"P","s":"bd","g":"d1","x":-1.76,"y":1500},{"p":"P","s":"bd","g":"d1","x":-1.73,"y":2200},{"p":"P","s":"bd","g":"d1","x":-1.69,"y":2950},{"p":"P","s":"bd","g":"d1","x":-1.65,"y":4300},{"p":"P","s":"bd","g":"d1","x":-1.61,"y":5620},{"p":"P","s":"bd","g":"d1","x":-1.56,"y":7800},{"p":"P","s":"bd","g":"d1","x":-1.50,"y":10000},{"p":"P","s":"bd","g":"d1","x":-1.43,"y":14500},{"p":"P","s":"bd","g":"d1","x":-1.36,"y":17000},
{"p":"P","s":"bd","g":"d2","x":1.25,"y":22000},{"p":"P","s":"bd","g":"d2","x":1.32,"y":17000},{"p":"P","s":"bd","g":"d2","x":1.38,"y":14000},{"p":"P","s":"bd","g":"d2","x":1.43,"y":9000},{"p":"P","s":"bd","g":"d2","x":1.45,"y":2800},{"p":"P","s":"bd","g":"d2","x":1.50,"y":2700},{"p":"P","s":"bd","g":"d2","x":1.54,"y":2460},{"p":"P","s":"bd","g":"d2","x":1.60,"y":1900},{"p":"P","s":"bd","g":"d2","x":1.67,"y":1450},{"p":"P","s":"bd","g":"d2","x":1.70,"y":900},

{"p":"P","s":"bs","g":"b1","x":-1.96,"y":1100},{"p":"P","s":"bs","g":"b1","x":-1.94,"y":540},{"p":"P","s":"bs","g":"b1","x":-1.92,"y":1150},{"p":"P","s":"bs","g":"b1","x":-1.90,"y":700},{"p":"P","s":"bs","g":"b1","x":-1.87,"y":1400},{"p":"P","s":"bs","g":"b1","x":-1.84,"y":2040},{"p":"P","s":"bs","g":"b1","x":-1.79,"y":3460},{"p":"P","s":"bs","g":"b1","x":-1.77,"y":4370},{"p":"P","s":"bs","g":"b1","x":-1.75,"y":6760},{"p":"P","s":"bs","g":"b1","x":-1.72,"y":6900},{"p":"P","s":"bs","g":"b1","x":-1.68,"y":8130},{"p":"P","s":"bs","g":"b1","x":-1.65,"y":11000},{"p":"P","s":"bs","g":"b1","x":-1.61,"y":13000},{"p":"P","s":"bs","g":"b1","x":-1.58,"y":14500},{"p":"P","s":"bs","g":"b1","x":-1.54,"y":15000},{"p":"P","s":"bs","g":"b1","x":-1.50,"y":15900},{"p":"P","s":"bs","g":"b1","x":-1.47,"y":18000},{"p":"P","s":"bs","g":"b1","x":-1.45,"y":20400},{"p":"P","s":"bs","g":"b1","x":-1.42,"y":22000},{"p":"P","s":"bs","g":"b1","x":-1.40,"y":22500},{"p":"P","s":"bs","g":"b1","x":-1.36,"y":21000},{"p":"P","s":"bs","g":"b1","x":-1.33,"y":25000},{"p":"P","s":"bs","g":"b1","x":-1.29,"y":34500},{"p":"P","s":"bs","g":"b1","x":-1.26,"y":33000},{"p":"P","s":"bs","g":"b1","x":-1.22,"y":36000},{"p":"P","s":"bs","g":"b1","x":-1.19,"y":32000},{"p":"P","s":"bs","g":"b1","x":-1.15,"y":44000},{"p":"P","s":"bs","g":"b1","x":-1.11,"y":53200},{"p":"P","s":"bs","g":"b1","x":-1.08,"y":23400},
{"p":"P","s":"bs","g":"b2","x":1.08,"y":47000},{"p":"P","s":"bs","g":"b2","x":1.10,"y":28700},{"p":"P","s":"bs","g":"b2","x":1.115,"y":47000},{"p":"P","s":"bs","g":"b2","x":1.18,"y":29000},{"p":"P","s":"bs","g":"b2","x":1.23,"y":24600},{"p":"P","s":"bs","g":"b2","x":1.27,"y":22000},{"p":"P","s":"bs","g":"b2","x":1.31,"y":20400},{"p":"P","s":"bs","g":"b2","x":1.36,"y":15900},{"p":"P","s":"bs","g":"b2","x":1.38,"y":14000},{"p":"P","s":"bs","g":"b2","x":1.41,"y":18600},{"p":"P","s":"bs","g":"b2","x":1.43,"y":12600},{"p":"P","s":"bs","g":"b2","x":1.45,"y":8130},{"p":"P","s":"bs","g":"b2","x":1.47,"y":6760},{"p":"P","s":"bs","g":"b2","x":1.50,"y":6500},{"p":"P","s":"bs","g":"b2","x":1.54,"y":5890},{"p":"P","s":"bs","g":"b2","x":1.58,"y":4170},{"p":"P","s":"bs","g":"b2","x":1.61,"y":3400},{"p":"P","s":"bs","g":"b2","x":1.63,"y":3800},{"p":"P","s":"bs","g":"b2","x":1.65,"y":6760},{"p":"P","s":"bs","g":"b2","x":1.67,"y":3200},{"p":"P","s":"bs","g":"b2","x":1.69,"y":3000},{"p":"P","s":"bs","g":"b2","x":1.72,"y":3980},{"p":"P","s":"bs","g":"b2","x":1.74,"y":3000},{"p":"P","s":"bs","g":"b2","x":1.75,"y":1000},{"p":"P","s":"bs","g":"b2","x":1.755,"y":295}
 ]
},
"hconcat": [
 {
  "width": 471, "height": 479,
  "title": {"text": "|aₑₓₜ|  (Equatorial region)"},
  "layer": [
   {"data": {"name": "lines"}, "transform": [{"filter": "datum.p == 'E'"}],
    "mark": {"type": "line", "clip": true, "strokeCap": "butt", "strokeJoin": "miter"},
    "encoding": {
     "x": {"field": "x", "type": "quantitative", "scale": {"domain": [-5, 5], "nice": false, "zero": false},
      "axis": {"orient": "bottom", "values": [-4.5,-4,-3.5,-3,-2.5,-2,-1.5,-1,-0.5,0,0.5,1,1.5,2,2.5,3,3.5,4,4.5], "labelExpr": "datum.value % 2 == 0 ? '' + datum.value : ''", "tickSize": {"condition": {"test": "datum.value % 2 == 0", "value": -10}, "value": -5}, "labelPadding": 41, "title": "h (Rₛᵤₙ)", "titleFontSize": 21, "titlePadding": 8}},
     "y": {"field": "y", "type": "quantitative", "scale": {"type": "log", "domain": [100, 100000], "nice": false},
      "axis": {"orient": "left", "values": [100,200,300,400,500,600,700,800,900,1000,2000,3000,4000,5000,6000,7000,8000,9000,10000,20000,30000,40000,50000,60000,70000,80000,90000,100000], "labelExpr": "datum.value == 100 ? '10²' : datum.value == 1000 ? '10³' : datum.value == 10000 ? '10⁴' : datum.value == 100000 ? '10⁵' : ''", "labelFontSize": 22, "tickSize": {"condition": {"test": "indexof([100,1000,10000,100000], datum.value) >= 0", "value": -10}, "value": -5}, "labelPadding": 17, "title": "|aₑₓₜ|  (cm s⁻²)", "titlePadding": 10}},
     "color": {"field": "s", "type": "nominal", "scale": {"domain": ["k","rd","rs","bd","bs"], "range": ["#111111","#c0190a","#c0190a","#0b3fc0","#0b3fc0"]}, "legend": null},
     "strokeDash": {"field": "s", "type": "nominal", "scale": {"domain": ["k","rd","rs","bd","bs"], "range": [[1,0],[10,6],[1,0],[10,6],[1,0]]}, "legend": null},
     "strokeWidth": {"field": "s", "type": "nominal", "scale": {"domain": ["k","rd","rs","bd","bs"], "range": [1.1,1.8,1.8,1.8,1.8]}, "legend": null},
     "detail": {"field": "g"}
    }},
   {"data": {"name": "vlines"}, "mark": {"type": "rule", "strokeDash": [2, 5], "color": "#111", "strokeWidth": 1.4},
    "encoding": {"x": {"field": "x", "type": "quantitative", "scale": {"domain": [-5, 5], "nice": false, "zero": false},
     "axis": {"orient": "top", "values": [-4.5,-4,-3.5,-3,-2.5,-2,-1.5,-1,-0.5,0,0.5,1,1.5,2,2.5,3,3.5,4,4.5], "labels": false, "title": null, "tickSize": {"condition": {"test": "datum.value % 2 == 0", "value": -10}, "value": -5}}}}},
   {"data": {"name": "yb"}, "mark": {"type": "rule", "opacity": 0},
    "encoding": {"y": {"field": "y", "type": "quantitative", "scale": {"type": "log", "domain": [100, 100000], "nice": false},
     "axis": {"orient": "right", "values": [100,200,300,400,500,600,700,800,900,1000,2000,3000,4000,5000,6000,7000,8000,9000,10000,20000,30000,40000,50000,60000,70000,80000,90000,100000], "labels": false, "title": null, "tickSize": {"condition": {"test": "indexof([100,1000,10000,100000], datum.value) >= 0", "value": -10}, "value": -5}}}}}
  ],
  "resolve": {"axis": {"x": "independent", "y": "independent"}}
 },
 {
  "width": 471, "height": 479,
  "title": {"text": "|aₑₓₜ|  (Polar region)"},
  "layer": [
   {"data": {"name": "lines"}, "transform": [{"filter": "datum.p == 'P'"}],
    "mark": {"type": "line", "clip": true, "strokeCap": "butt", "strokeJoin": "miter"},
    "encoding": {
     "x": {"field": "x", "type": "quantitative", "scale": {"domain": [-5, 5], "nice": false, "zero": false},
      "axis": {"orient": "bottom", "values": [-4.5,-4,-3.5,-3,-2.5,-2,-1.5,-1,-0.5,0,0.5,1,1.5,2,2.5,3,3.5,4,4.5], "labelExpr": "datum.value % 2 == 0 ? '' + datum.value : ''", "tickSize": {"condition": {"test": "datum.value % 2 == 0", "value": -10}, "value": -5}, "labelPadding": 41, "title": "h (Rₛᵤₙ)", "titleFontSize": 21, "titlePadding": 8}},
     "y": {"field": "y", "type": "quantitative", "scale": {"type": "log", "domain": [100, 100000], "nice": false},
      "axis": {"orient": "left", "values": [100,200,300,400,500,600,700,800,900,1000,2000,3000,4000,5000,6000,7000,8000,9000,10000,20000,30000,40000,50000,60000,70000,80000,90000,100000], "labelExpr": "datum.value == 100 ? '10²' : datum.value == 1000 ? '10³' : datum.value == 10000 ? '10⁴' : datum.value == 100000 ? '10⁵' : ''", "labelFontSize": 22, "tickSize": {"condition": {"test": "indexof([100,1000,10000,100000], datum.value) >= 0", "value": -10}, "value": -5}, "labelPadding": 17, "title": "|aₑₓₜ|  (cm s⁻²)", "titlePadding": 10}},
     "color": {"field": "s", "type": "nominal", "scale": {"domain": ["k","rd","rs","bd","bs"], "range": ["#111111","#c0190a","#c0190a","#0b3fc0","#0b3fc0"]}, "legend": null},
     "strokeDash": {"field": "s", "type": "nominal", "scale": {"domain": ["k","rd","rs","bd","bs"], "range": [[1,0],[10,6],[1,0],[10,6],[1,0]]}, "legend": null},
     "strokeWidth": {"field": "s", "type": "nominal", "scale": {"domain": ["k","rd","rs","bd","bs"], "range": [1.1,1.8,1.8,1.8,1.8]}, "legend": null},
     "detail": {"field": "g"}
    }},
   {"data": {"name": "vlines"}, "mark": {"type": "rule", "strokeDash": [2, 5], "color": "#111", "strokeWidth": 1.4},
    "encoding": {"x": {"field": "x", "type": "quantitative", "scale": {"domain": [-5, 5], "nice": false, "zero": false},
     "axis": {"orient": "top", "values": [-4.5,-4,-3.5,-3,-2.5,-2,-1.5,-1,-0.5,0,0.5,1,1.5,2,2.5,3,3.5,4,4.5], "labels": false, "title": null, "tickSize": {"condition": {"test": "datum.value % 2 == 0", "value": -10}, "value": -5}}}}},
   {"data": {"name": "yb"}, "mark": {"type": "rule", "opacity": 0},
    "encoding": {"y": {"field": "y", "type": "quantitative", "scale": {"type": "log", "domain": [100, 100000], "nice": false},
     "axis": {"orient": "right", "values": [100,200,300,400,500,600,700,800,900,1000,2000,3000,4000,5000,6000,7000,8000,9000,10000,20000,30000,40000,50000,60000,70000,80000,90000,100000], "labels": false, "title": null, "tickSize": {"condition": {"test": "indexof([100,1000,10000,100000], datum.value) >= 0", "value": -10}, "value": -5}}}}}
  ],
  "resolve": {"axis": {"x": "independent", "y": "independent"}}
 }
]
}
